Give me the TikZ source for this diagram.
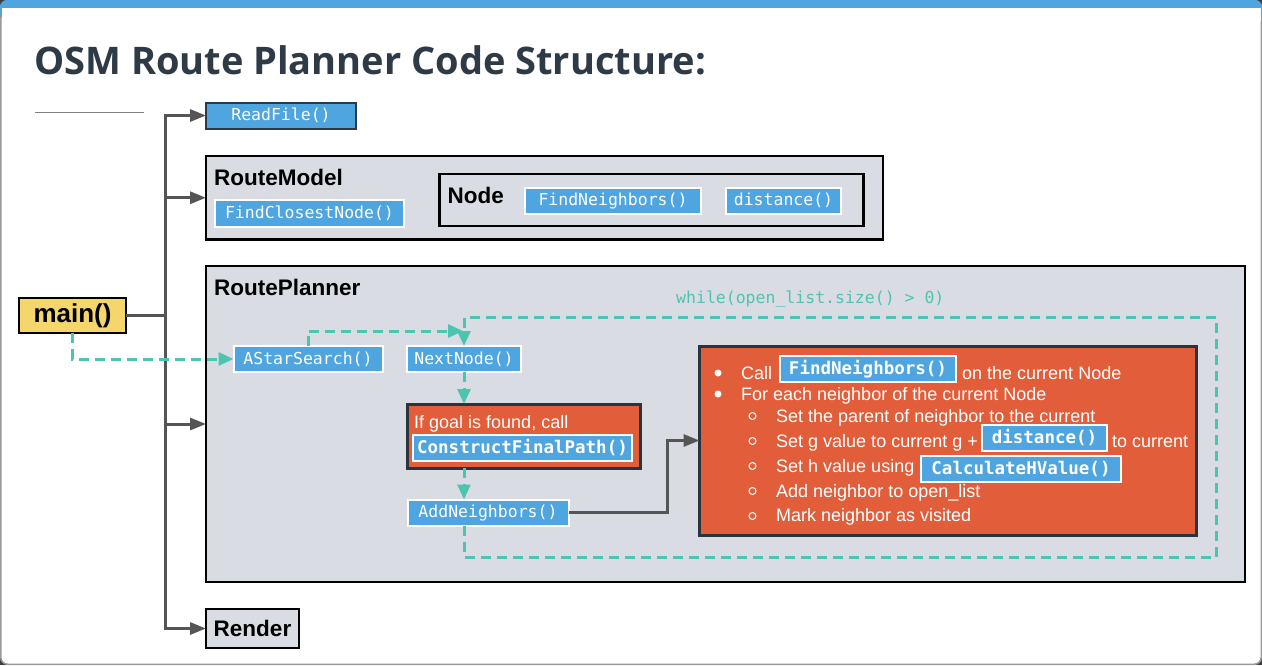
\documentclass[tikz,border=0pt]{standalone}
\usepackage{fontspec}
\setmainfont{Liberation Sans}
\setmonofont{DejaVu Sans Mono}
\newfontfamily\headingfont{Open Sans}
\usetikzlibrary{arrows.meta}

\definecolor{codeblue}{HTML}{4EA5DF}
\definecolor{panel}{HTML}{D9DDE3}
\definecolor{hot}{HTML}{E25E3B}
\definecolor{loopteal}{HTML}{4DC4B0}
\definecolor{mainyellow}{HTML}{F4D66C}
\definecolor{wiregray}{HTML}{555555}
\definecolor{ink}{HTML}{2E3A46}
\definecolor{cardedge}{HTML}{3A3F45}

\begin{document}
\begin{tikzpicture}[x=1pt,y=-1pt,
    code/.style={fill=codeblue,draw=white,line width=2,text=white,inner sep=0,outer sep=0,
      anchor=north west,font=\ttfamily\fontsize{16.5}{18}\selectfont},
    codebold/.style={code,font=\ttfamily\bfseries\fontsize{17.5}{19}\selectfont},
    frame/.style={fill=panel,draw=black,line width=2.5,inner sep=0,outer sep=0,anchor=north west},
    hotbox/.style={fill=hot,draw=ink!90!black,line width=3,inner sep=0,outer sep=0,anchor=north west},
    head/.style={anchor=base west,inner sep=0,font=\bfseries\fontsize{22.5}{24}\selectfont},
    txt/.style={anchor=base west,inner sep=0,text=white,font=\fontsize{18}{20}\selectfont},
    wire/.style={draw=wiregray,line width=3},
    arrow/.style={-{Triangle[length=16pt,width=12pt]}},
    loop/.style={draw=loopteal,line width=3,dash pattern=on 10pt off 6pt,-{Triangle[length=15pt,width=13pt]}}]

  \useasboundingbox (0,0) rectangle (1262,665);

  % card
  \fill[cardedge] (0,0) rectangle (1262,665);
  \filldraw[fill=white,draw=gray!80,line width=1.5,rounded corners=7] (0.75,0.75) rectangle (1261.25,664.25);
  \fill[codeblue,rounded corners=7] (0,0) rectangle (1262,20);
  \fill[white] (1.5,7.5) rectangle (1260.5,21);

  \node[anchor=base west,inner sep=0,text=ink,font=\headingfont\bfseries\fontsize{38}{40}\selectfont]
    (title) at (34,74) {OSM Route Planner Code Structure:};
  \draw[gray,line width=1] (35,112.5) -- (144,112.5);

  % boxes
  \node[code,draw=ink,minimum width=150,minimum height=26] (readfile) at (206,102.5) {ReadFile()};

  \node[frame,minimum width=677,minimum height=83.5] (model) at (206,156) {};
  \node[head] (modeltitle) at (214,185) {RouteModel};
  \node[code,minimum width=189,minimum height=27] (closest) at (215,200) {FindClosestNode()};
  \node[frame,minimum width=424,minimum height=52] (nodebox) at (439.5,174) {};
  \node[head] (nodetitle) at (447.5,203) {Node};
  \node[code,minimum width=176,minimum height=26] (neigh) at (525,187.5) {FindNeighbors()};
  \node[code,minimum width=115,minimum height=26] (dist) at (726,187.5) {distance()};

  \node[frame,minimum width=1039,minimum height=316] (planner) at (206,266) {};
  \node[head] (plannertitle) at (214,295) {RoutePlanner};
  \node[anchor=base west,inner sep=0,text=loopteal,font=\ttfamily\fontsize{16.5}{18}\selectfont]
    (cond) at (676,303) {while(open\_list.size() > 0)};
  \node[code,minimum width=149,minimum height=26] (astar) at (233.5,346) {AStarSearch()};
  \node[code,minimum width=114,minimum height=26] (next) at (407,346) {NextNode()};
  \node[hotbox,minimum width=233,minimum height=64] (goal) at (407,404) {};
  \node[txt] (goaltext) at (414,428) {If goal is found, call};
  \node[codebold,minimum width=219,minimum height=26] (final) at (413,435) {ConstructFinalPath()};
  \node[code,minimum width=161,minimum height=26] (addn) at (407.5,499.5) {AddNeighbors()};

  \node[hotbox,minimum width=497,minimum height=189] (steps) at (699.5,346) {};
  \fill[white] (718,373) circle [radius=3.5];
  \fill[white] (718,394) circle [radius=3.5];
  \foreach \y in {416,441,466,491,516}{
    \draw[white,line width=1] (752.5,\y) circle [radius=3.5];
  }
  \node[txt] (call) at (741,379) {Call};
  \node[codebold,minimum width=176,minimum height=26] (neighcall) at (780,356) {FindNeighbors()};
  \node[txt] (callrest) at (962,379) {on the current Node};
  \node[txt] (each) at (741,400) {For each neighbor of the current Node};
  \node[txt] (parent) at (776,422) {Set the parent of neighbor to the current};
  \node[txt] (gval) at (776,447) {Set g value to current g +};
  \node[codebold,minimum width=125,minimum height=26] (distcall) at (982,425) {distance()};
  \node[txt] (grest) at (1112,447) {to current};
  \node[txt] (hval) at (776,472) {Set h value using};
  \node[codebold,minimum width=200,minimum height=26] (hcall) at (921,456) {CalculateHValue()};
  \node[txt] (push) at (776,497) {Add neighbor to open\_list};
  \node[txt] (visit) at (776,521) {Mark neighbor as visited};

  \node[frame,minimum width=93,minimum height=39,font=\bfseries\fontsize{22.5}{24}\selectfont] (render) at (206,609) {Render};

  \node[fill=mainyellow,draw=black,line width=2.5,inner sep=0,outer sep=0,anchor=north west,
    minimum width=107,minimum height=35,font=\bfseries\fontsize{26}{28}\selectfont] (main) at (19,298) {main()};

  % connectors
  \coordinate (spine) at (165.5,0);
  \draw[wire] (main.east) -- (main.east -| spine);
  \draw[wire,arrow] (spine |- main.east) -- (spine |- readfile.west) -- (readfile.west);
  \draw[wire,arrow] (spine |- main.east) -- (spine |- render.west) -- (render.west);
  \draw[wire,arrow] (spine |- model.west) -- (model.west);
  \draw[wire,arrow] (spine |- planner.west) -- (planner.west);
  \draw[wire,arrow] (addn.east) -- ++(99,0) |- (steps.west);

  \coordinate (entry) at (463,331);
  \coordinate (loopbr) at (1216,557);
  \coordinate (looptr) at (1216,317);
  \draw[loop] (main.south) |- (astar.west);
  \draw[loop] (astar.north) |- (entry);
  \draw[loop] (addn.south -| next.south) |- (loopbr) -- (looptr) -| (next.north);
  \draw[loop] (next.south) -- (next.south |- goal.north);
  \draw[loop] (goal.south -| next.south) -- (addn.north -| next.south);
\end{tikzpicture}
\end{document}
